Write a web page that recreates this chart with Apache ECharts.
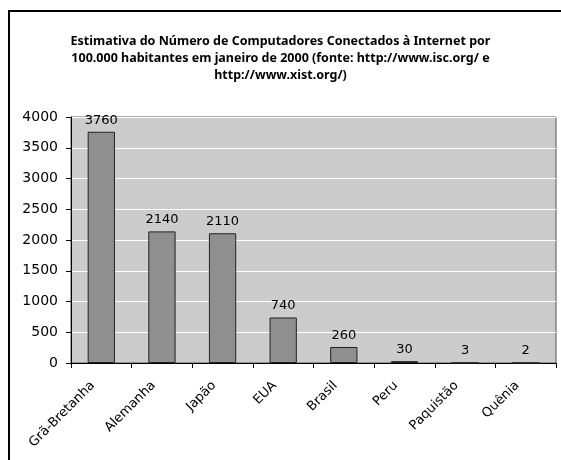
<!DOCTYPE html>
<html>
<head>
<meta charset="utf-8">
<script src="https://cdn.jsdelivr.net/npm/echarts@6/dist/echarts.min.js"></script>
<style>
html,body{margin:0;padding:0;background:#fff;}
#chart{width:561px;height:460px;}
</style>
</head>
<body>
<div id="chart"></div>
<script>
const categories = ["Grã-Bretanha", "Alemanha", "Japão", "EUA", "Brasil", "Peru", "Paquistão", "Quênia"];
const values = [3760, 2140, 2110, 740, 260, 30, 3, 2];
const yTicks = { min: 0, max: 4000, interval: 500 };
const titleText = "Estimativa do Número de Computadores Conectados à Internet por\n100.000 habitantes em janeiro de 2000 (fonte: http://www.isc.org/ e\nhttp://www.xist.org/)";

const chart = echarts.init(document.getElementById('chart'), null, { renderer: 'canvas' });
chart.setOption({
  backgroundColor: '#ffffff',
  animation: false,
  graphic: [{
    type: 'rect',
    shape: { x: 9, y: 11, width: 620, height: 520 },
    style: { fill: 'none', stroke: '#000', lineWidth: 2 },
    z: 100
  }],
  title: {
    text: titleText,
    left: 'center',
    top: 28,
    textStyle: { fontFamily: 'Noto Sans', fontWeight: 'bold', fontSize: 12.5, lineHeight: 17, color: '#000' }
  },
  grid: {
    left: 71, right: 5, top: 117, bottom: 97,
    show: true, backgroundColor: '#cccccc', borderColor: '#555', borderWidth: 1
  },
  xAxis: {
    type: 'category',
    data: categories,
    axisLine: { lineStyle: { color: '#000', width: 1 } },
    axisTick: { show: true, length: 5, lineStyle: { color: '#000' } },
    axisLabel: { rotate: 45, fontFamily: 'DejaVu Sans', fontSize: 13, color: '#000', margin: 12, padding: [0, 12, 0, 0] }
  },
  yAxis: {
    type: 'value',
    min: yTicks.min, max: yTicks.max, interval: yTicks.interval,
    axisLine: { show: true, lineStyle: { color: '#000', width: 1 } },
    axisTick: { show: true, length: 5, lineStyle: { color: '#000' } },
    splitLine: { lineStyle: { color: '#ffffff', width: 1 } },
    axisLabel: { fontFamily: 'DejaVu Sans', fontSize: 14, color: '#000', margin: 13, formatter: v => String(v) }
  },
  series: [{
    type: 'bar',
    data: values,
    barWidth: '45%',
    itemStyle: { color: '#8f8f8f', borderColor: '#222', borderWidth: 1 },
    label: { show: true, position: 'top', distance: 5, fontFamily: 'DejaVu Sans', fontSize: 13, color: '#000' }
  }]
});
</script>
</body>
</html>
